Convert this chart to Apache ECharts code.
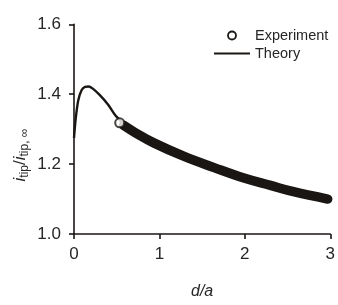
<!DOCTYPE html>
<html>
<head>
<meta charset="utf-8">
<script src="https://cdn.jsdelivr.net/npm/echarts@6/dist/echarts.min.js"></script>
<style>html,body{margin:0;padding:0;background:#fff;}#c{width:338px;height:305px;}</style>
</head>
<body>
<div id="c"></div>
<script>
// d/a values and normalised tip current
var theoryD   = [0, 0.02, 0.05, 0.09, 0.13, 0.17, 0.22, 0.30, 0.40, 0.50, 0.70, 1.00, 1.30, 1.60, 2.00, 2.50, 3.00];
var theoryI   = [1.275, 1.33, 1.383, 1.412, 1.421, 1.422, 1.416, 1.398, 1.37, 1.335, 1.292, 1.255, 1.224, 1.190, 1.158, 1.124, 1.10];
var expD      = [0.58, 0.71, 0.94, 1.29, 1.64, 1.99, 2.30, 2.57, 2.97];
var expI      = [1.311, 1.291, 1.260, 1.222, 1.190, 1.160, 1.139, 1.121, 1.100];
var expFirst  = [0.535, 1.318];
var xTicks    = [0, 1, 2, 3];
var yTicks    = [1.0, 1.2, 1.4, 1.6];

function zip(a, b) { return a.map(function (v, i) { return [v, b[i]]; }); }

var ink = '#1a1614';
var txt = '#262626';
var chart = echarts.init(document.getElementById('c'));
chart.setOption({
  animation: false,
  grid: { left: 74, right: 6, top: 24.3, bottom: 62.3, containLabel: false },
  legend: {
    orient: 'vertical', left: 209, top: 23, itemWidth: 36, itemHeight: 8, itemGap: 3,
    textStyle: { fontFamily: 'Liberation Sans', fontSize: 14.5, color: txt },
    data: [
      { name: 'Experiment', icon: 'circle', itemStyle: { color: '#fff', borderColor: ink, borderWidth: 1.8 } },
      { name: 'Theory', icon: 'path://M0,0 L36,0 L36,2.2 L0,2.2 Z', itemStyle: { color: ink } }
    ]
  },
  xAxis: {
    type: 'value', min: 0, max: 3, interval: 1,
    name: 'd/a', nameLocation: 'middle', nameGap: 50,
    nameTextStyle: { fontFamily: 'Liberation Sans', fontSize: 16, fontStyle: 'italic', color: txt },
    axisLine: { show: true, onZero: false, lineStyle: { color: ink, width: 1.6 } },
    axisTick: { show: true, inside: false, length: 5, lineStyle: { color: ink, width: 1.6 } },
    axisLabel: { margin: 12, fontFamily: 'Liberation Sans', fontSize: 17, color: txt,
      formatter: function (v) { return xTicks.indexOf(v) >= 0 ? String(v) : ''; } },
    splitLine: { show: false }
  },
  yAxis: {
    type: 'value', min: 1.0, max: 1.6, interval: 0.2,
    axisLine: { show: true, onZero: false, lineStyle: { color: ink, width: 1.6 } },
    axisTick: { show: true, inside: false, length: 5, lineStyle: { color: ink, width: 1.6 } },
    axisLabel: { margin: 13, fontFamily: 'Liberation Sans', fontSize: 17, color: txt,
      formatter: function (v) { return yTicks.map(function(t){return t.toFixed(1);}).indexOf(v.toFixed(1)) >= 0 ? v.toFixed(1) : ''; } },
    splitLine: { show: false }
  },
  graphic: [{
    type: 'text', x: 20, y: 155, rotation: Math.PI / 2,
    style: {
      text: '{i|i}{s|tip}{n|/}{i|i}{s|tip, ∞}',
      align: 'center', verticalAlign: 'middle', fill: txt,
      rich: {
        i: { fontFamily: 'Liberation Sans', fontSize: 17, fontStyle: 'italic', lineHeight: 22, verticalAlign: 'middle', fill: txt },
        n: { fontFamily: 'Liberation Sans', fontSize: 17, lineHeight: 22, verticalAlign: 'middle', fill: txt },
        s: { fontFamily: 'Liberation Sans', fontSize: 12, lineHeight: 22, verticalAlign: 'bottom', fill: txt }
      }
    }
  }],
  series: [
    { name: 'Theory', type: 'line', data: zip(theoryD, theoryI), symbol: 'none', smooth: 0.3,
      lineStyle: { color: ink, width: 2.4 }, itemStyle: { color: ink }, z: 2 },
    { name: 'Experiment', type: 'line', data: zip(expD, expI), symbol: 'none', smooth: 0.4,
      lineStyle: { color: ink, width: 9.5, cap: 'round' }, itemStyle: { color: ink }, z: 3 },
    { name: 'Experiment', type: 'scatter', data: [expFirst], symbol: 'circle', symbolSize: 9,
      itemStyle: { color: '#fff', borderColor: ink, borderWidth: 2 }, z: 4 }
  ]
});
</script>
</body>
</html>
